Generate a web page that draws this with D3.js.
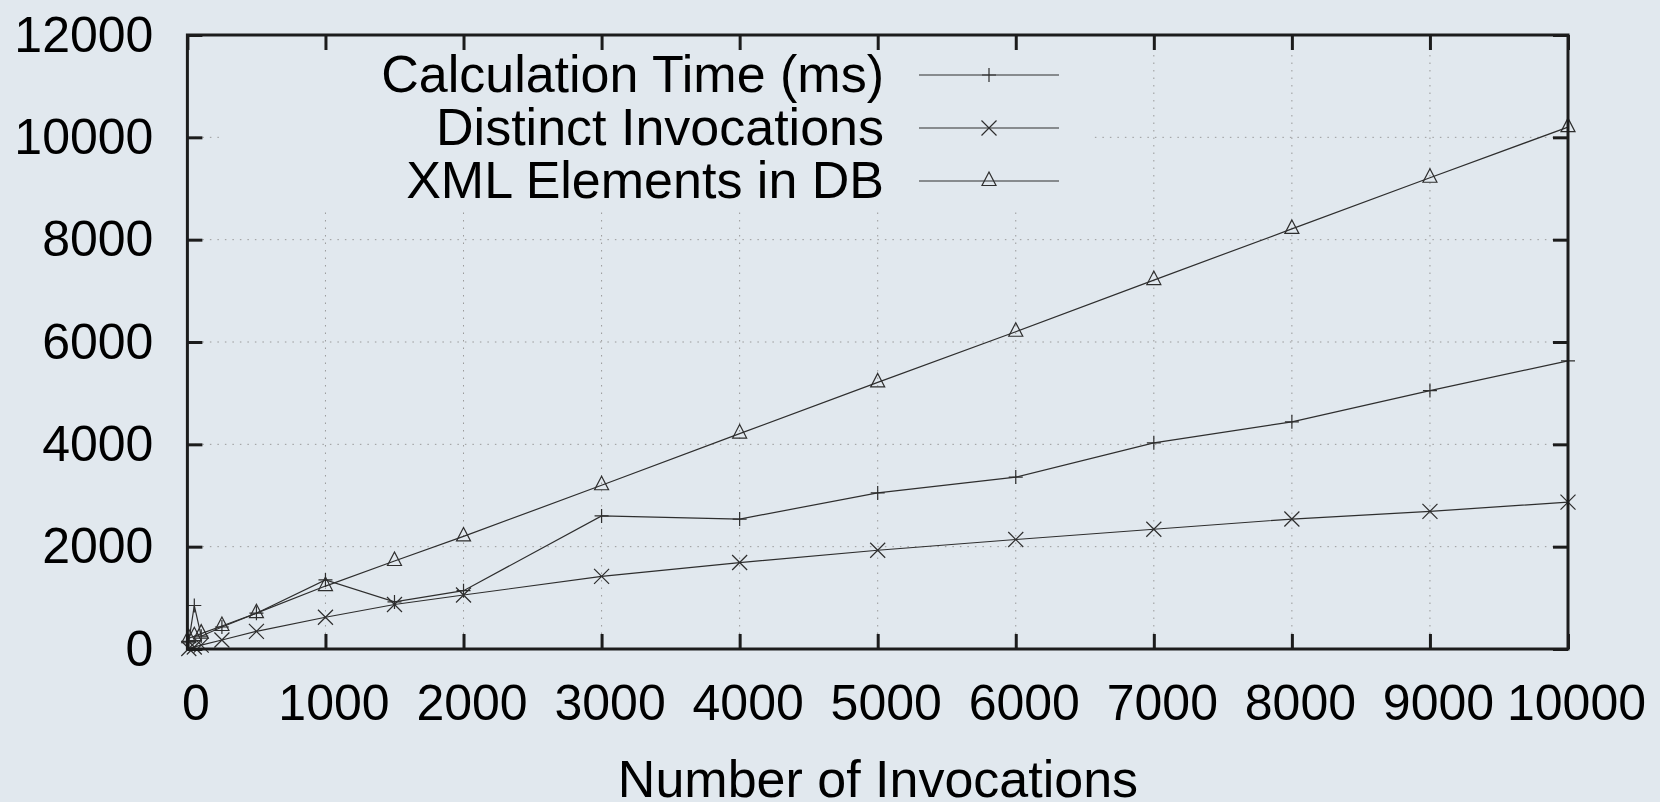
<!DOCTYPE html>
<html>
<head>
<meta charset="utf-8">
<script src="https://cdn.jsdelivr.net/npm/d3@7"></script>
<style>
  body { margin: 0; background: #e1e8ee; }
  svg { display: block; font-family: "Liberation Sans", Arial, sans-serif; }
</style>
</head>
<body>
<svg id="chart" width="1660" height="802"></svg>
<script>
// values
var invocations = [10, 50, 100, 250, 500, 1000, 1500, 2000, 3000, 4000, 5000, 6000, 7000, 8000, 9000, 10000];
var calcTime    = [150, 850, 250, 430, 700, 1350, 920, 1140, 2600, 2540, 3050, 3360, 4030, 4440, 5050, 5630];
var distinct    = [10, 40, 75, 176, 345, 620, 870, 1055, 1420, 1690, 1930, 2140, 2340, 2540, 2690, 2870];
var xmlElements = [210, 250, 300, 450, 700, 1230, 1720, 2200, 3200, 4210, 5210, 6200, 7210, 8210, 9210, 10200];

var xTicks = [0, 1000, 2000, 3000, 4000, 5000, 6000, 7000, 8000, 9000, 10000];
var yTicks = [0, 2000, 4000, 6000, 8000, 10000, 12000];
var seriesNames = ["Calculation Time (ms)", "Distinct Invocations", "XML Elements in DB"];

var svg = d3.select("#chart"),
    margin = {left: 187.4, right: 92, top: 35, bottom: 153},
    width = +svg.attr("width"),
    height = +svg.attr("height");

var x = d3.scaleLinear().domain([0, 10000]).range([margin.left, width - margin.right]);
var y = d3.scaleLinear().domain([0, 12000]).range([height - margin.bottom, margin.top]);

var ink = "#1c1c1c";
var lineInk = "#2e2e2e";

// grid
var grid = svg.append("g").attr("stroke", "#9a9a9a").attr("stroke-width", 1).attr("stroke-dasharray", "1.5,6");
grid.selectAll(".gx").data(xTicks.slice(1, -1)).enter().append("line")
    .attr("x1", d => x(d)).attr("x2", d => x(d))
    .attr("y1", y(0)).attr("y2", y(12000));
grid.selectAll(".gy").data(yTicks.slice(1, -1)).enter().append("line")
    .attr("x1", x(0)).attr("x2", x(10000))
    .attr("y1", d => y(d)).attr("y2", d => y(d));

// opaque key box
svg.append("rect")
    .attr("x", 222).attr("y", y(12000) + 2)
    .attr("width", 870).attr("height", 170)
    .attr("fill", "#e1e8ee");

// markers
function plus(g, cx, cy) {
    g.append("path").attr("d", `M${cx - 7},${cy}H${cx + 7}M${cx},${cy - 7}V${cy + 7}`);
}
function cross(g, cx, cy) {
    g.append("path").attr("d", `M${cx - 7.5},${cy - 7.5}L${cx + 7.5},${cy + 7.5}M${cx - 7.5},${cy + 7.5}L${cx + 7.5},${cy - 7.5}`);
}
function triangle(g, cx, cy) {
    g.append("path").attr("d", `M${cx},${cy - 9}L${cx + 7},${cy + 4.5}L${cx - 7},${cy + 4.5}Z`).attr("fill", "none");
}
var markers = [plus, cross, triangle];
var seriesValues = [calcTime, distinct, xmlElements];

var line = d3.line()
    .x(d => x(d[0]))
    .y(d => y(d[1]));

seriesValues.forEach(function(vals, i) {
    var pts = invocations.map((n, j) => [n, vals[j]]);
    var g = svg.append("g").attr("stroke", lineInk).attr("stroke-width", 1.2).attr("fill", "none");
    g.append("path").datum(pts).attr("d", line);
    pts.forEach(p => markers[i](g, x(p[0]), y(p[1])));
});

// key entries
var key = svg.append("g");
seriesNames.forEach(function(name, i) {
    var ry = 75 + i * 53;
    key.append("text")
        .attr("x", 884).attr("y", ry + 17)
        .attr("text-anchor", "end")
        .attr("font-size", 52)
        .attr("fill", "#000")
        .text(name);
    var g = key.append("g").attr("stroke", lineInk).attr("stroke-width", 1.2).attr("fill", "none");
    g.append("line").attr("x1", 919).attr("x2", 1059).attr("y1", ry).attr("y2", ry);
    markers[i](g, 989, ry);
});

// axes with inward ticks
var axisB = svg.append("g")
    .attr("transform", `translate(0,${y(0)})`)
    .call(d3.axisBottom(x).tickValues(xTicks).tickSize(-15).tickPadding(35.5).tickFormat(d3.format("d")));
var axisL = svg.append("g")
    .attr("transform", `translate(${x(0)},0)`)
    .call(d3.axisLeft(y).tickValues(yTicks).tickSize(-15).tickPadding(34).tickFormat(d3.format("d")));
var axisT = svg.append("g")
    .attr("transform", `translate(0,${y(12000)})`)
    .call(d3.axisTop(x).tickValues(xTicks).tickSize(-15).tickFormat(""));
var axisR = svg.append("g")
    .attr("transform", `translate(${x(10000)},0)`)
    .call(d3.axisRight(y).tickValues(yTicks).tickSize(-15).tickFormat(""));

[axisB, axisL, axisT, axisR].forEach(function(a) {
    a.select(".domain").remove();
    a.selectAll(".tick line").attr("stroke", ink).attr("stroke-width", 3);
    a.selectAll("text").attr("font-size", 50).attr("fill", "#000")
        .attr("font-family", "'Liberation Sans', Arial, sans-serif");
});
axisB.selectAll("text").attr("dx", 8);

// border
svg.append("rect")
    .attr("x", x(0)).attr("y", y(12000))
    .attr("width", x(10000) - x(0)).attr("height", y(0) - y(12000))
    .attr("fill", "none").attr("stroke", ink).attr("stroke-width", 3);

// axis title
svg.append("text")
    .attr("x", 878).attr("y", 797)
    .attr("text-anchor", "middle")
    .attr("font-size", 52)
    .attr("fill", "#000")
    .text("Number of Invocations");
</script>
</body>
</html>
